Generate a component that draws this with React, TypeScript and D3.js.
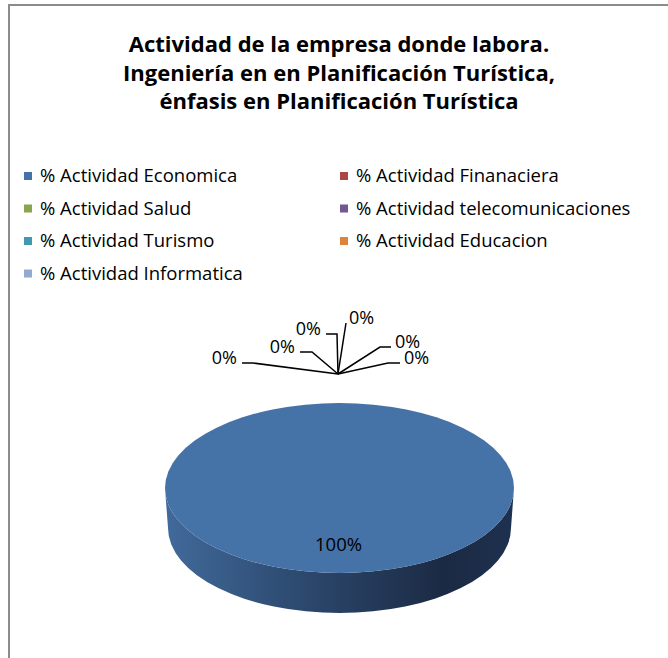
import { useEffect, useRef } from 'react'
import * as d3 from 'd3'

const categories = [
  '% Actividad Economica',
  '% Actividad Finanaciera',
  '% Actividad Salud',
  '% Actividad telecomunicaciones',
  '% Actividad Turismo',
  '% Actividad Educacion',
  '% Actividad Informatica',
]
const values = [100, 0, 0, 0, 0, 0, 0]
const colors = ['#4572A7', '#AA4643', '#89A54E', '#71588F', '#4198AF', '#DB843D', '#93A9CF']
const titleLines = [
  'Actividad de la empresa donde labora.',
  'Ingeniería en en Planificación Turística,',
  'énfasis en Planificación Turística',
]

// leader line layout for the stacked 0% labels (elbow, end) relative to the hub
const leaderLayout: [number, number, number, number][] = [
  [-85, -11, -96, -11],
  [-26, -22, -38, -22],
  [-1, -40, -12, -40],
  [8, -51, 8, -51],
  [42, -27, 53, -27],
  [50, -11, 62, -11],
]

const W = 668
const H = 658

export default function App() {
  const svgRef = useRef<SVGSVGElement>(null)

  useEffect(() => {
    if (!svgRef.current) return
    const svg = d3.select(svgRef.current)
    svg.selectAll('*').remove()

    const font = '"Open Sans", Lato, sans-serif'

    // frame
    svg.append('rect').attr('width', W).attr('height', H).attr('fill', '#fff')
    svg.append('path')
      .attr('d', `M9,${H} V5 H${W}`)
      .attr('fill', 'none')
      .attr('stroke', '#8c8c8c')
      .attr('stroke-width', 2)

    // title
    const title = svg.append('text')
      .attr('x', 339)
      .attr('y', 52)
      .attr('text-anchor', 'middle')
      .attr('font-family', font)
      .attr('font-weight', 700)
      .attr('font-size', '22px')
      .attr('fill', '#000')
    titleLines.forEach((t, i) => {
      title.append('tspan').attr('x', 339).attr('dy', i === 0 ? 0 : 28.5).text(t)
    })

    // legend
    const cols = [24, 340]
    const rowY = d3.scaleLinear().domain([0, 1]).range([176, 208.5])
    categories.forEach((c, i) => {
      const col = i % 2
      const row = Math.floor(i / 2)
      const lg = svg.append('g').attr('transform', `translate(${cols[col]},${rowY(row)})`)
      lg.append('rect').attr('x', 0).attr('y', -4).attr('width', 8).attr('height', 8).attr('fill', colors[i])
      lg.append('text')
        .attr('x', 16)
        .attr('y', 0)
        .attr('dy', '0.35em')
        .attr('font-family', font)
        .attr('font-size', '18.5px')
        .attr('fill', '#000')
        .text(c)
    })

    // 3D pie
    const cx = 339.5
    const cy = 488
    const rx = 174.5
    const ry = 85
    const depth = 40

    const defs = svg.append('defs')
    const grad = defs.append('linearGradient').attr('id', 'side').attr('x1', '0%').attr('x2', '100%')
    grad.append('stop').attr('offset', '0%').attr('stop-color', '#416a9b')
    grad.append('stop').attr('offset', '40%').attr('stop-color', '#2c486d')
    grad.append('stop').attr('offset', '80%').attr('stop-color', '#1b2a43')
    grad.append('stop').attr('offset', '100%').attr('stop-color', '#1e3150')

    const pie = d3.pie<number>().sort(null).value(d => d)
    const arcs = pie(values)
    const arc = d3.arc<d3.PieArcDatum<number>>().innerRadius(0).outerRadius(rx)

    // side band (front half) for the slice that wraps the front
    const side = `M${cx - rx},${cy} A${rx},${ry} 0 0 0 ${cx + rx},${cy} L${cx + rx - 3},${cy + depth} A${rx - 3},${ry} 0 0 1 ${cx - rx + 3},${cy + depth} Z`
    arcs.filter(a => a.endAngle - a.startAngle > 0).forEach(() => {
      svg.append('path').attr('d', side).attr('fill', 'url(#side)')
    })

    const top = svg.append('g').attr('transform', `translate(${cx},${cy}) scale(1,${ry / rx})`)
    top.selectAll('path')
      .data(arcs)
      .join('path')
      .attr('d', arc)
      .attr('fill', (d, i) => colors[i])

    // labels
    const pct = d3.format('.0%')
    const total = d3.sum(values)
    const hub: [number, number] = [cx - 1.5, cy - ry - 29]
    let z = 0
    arcs.forEach(a => {
      const share = a.data / total
      if (share > 0) {
        svg.append('text')
          .attr('x', cx - 1)
          .attr('y', cy + 57)
          .attr('text-anchor', 'middle')
          .attr('dy', '0.35em')
          .attr('font-family', font)
          .attr('font-size', '18.5px')
          .attr('fill', '#000')
          .text(pct(share))
        return
      }
      const [ex, ey, tx, ty] = leaderLayout[z++]
      const line = d3.line()
      const pts: [number, number][] = [hub, [hub[0] + ex, hub[1] + ey], [hub[0] + tx, hub[1] + ty]]
      svg.append('path')
        .attr('d', line(pts))
        .attr('fill', 'none')
        .attr('stroke', '#000')
        .attr('stroke-width', 1.5)
      const right = tx > 0
      const isTop = ex === tx
      svg.append('text')
        .attr('x', hub[0] + tx + (isTop ? 3 : right ? 4 : -5))
        .attr('y', hub[1] + ty - 5)
        .attr('dy', '0.35em')
        .attr('text-anchor', right ? 'start' : 'end')
        .attr('font-family', font)
        .attr('font-size', '18px')
        .attr('fill', '#000')
        .text(pct(share))
    })
  }, [])

  return (
    <>
      <style>{'body{margin:0}'}</style>
      <svg ref={svgRef} width={W} height={H} style={{ display: 'block' }} />
    </>
  )
}
